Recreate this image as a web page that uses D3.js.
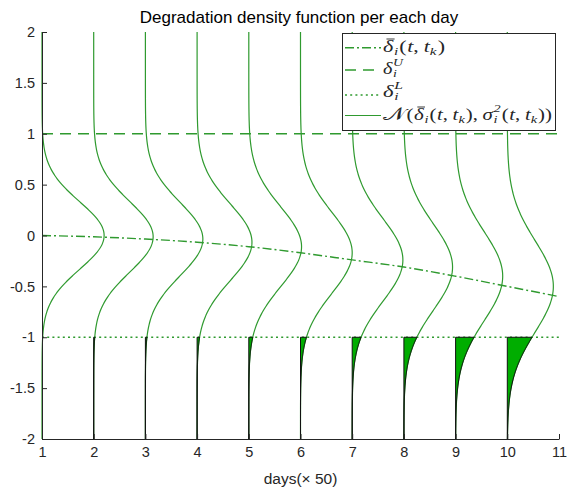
<!DOCTYPE html>
<html>
<head>
<meta charset="utf-8">
<script src="https://cdn.jsdelivr.net/npm/d3@7"></script>
<style>
  body { margin: 0; background: #fff; }
  svg { display: block; font-family: "Liberation Sans", Arial, sans-serif; }
</style>
</head>
<body>
<div class="degviz"></div>
<script>
// days (x 50) where a density is drawn
const days = [1, 2, 3, 4, 5, 6, 7, 8, 9, 10];
// mean degradation curve read at x = 1..11
const meanX = [1, 2, 3, 4, 5, 6, 7, 8, 9, 10, 11];
const meanY = [0, -0.013, -0.035, -0.066, -0.11, -0.17, -0.24, -0.31, -0.40, -0.50, -0.60];
// spread of each day's density
const sigmas = [0.332, 0.347, 0.359, 0.376, 0.391, 0.399, 0.407, 0.424, 0.438, 0.448];
const upperBound = 1;
const lowerBound = -1;
const xTicks = [1, 2, 3, 4, 5, 6, 7, 8, 9, 10, 11];
const yTicks = [-2, -1.5, -1, -0.5, 0, 0.5, 1, 1.5, 2];
const yTickLabels = ["-2", "-1.5", "-1", "-0.5", "0", "0.5", "1", "1.5", "2"];

const margin = { top: 32, right: 9, bottom: 56, left: 42 },
    width = 568 - margin.left - margin.right,
    height = 495 - margin.top - margin.bottom;

const axisColor = "#262626";
const lineGreen = "#2f9a2f";
const fillGreen = "#00ad00";

const svg = d3.select(".degviz")
    .append("svg")
    .attr("width", width + margin.left + margin.right)
    .attr("height", height + margin.top + margin.bottom);

const plot = svg.append("g")
    .attr("transform", `translate(${margin.left},${margin.top})`);

const x = d3.scaleLinear().domain([1, 11]).range([0, width]);
const y = d3.scaleLinear().domain([-2, 2]).range([height, 0]);

const pdf = (v, mu, s) => Math.exp(-0.5 * ((v - mu) / s) ** 2) / (s * Math.sqrt(2 * Math.PI));
const ySamples = d3.range(-2, 2.0001, 0.01);
const ySamplesLow = d3.range(-2, lowerBound + 0.0001, 0.01);

// mean line
plot.append("path")
    .datum(meanX.map((d, i) => [d, meanY[i]]))
    .attr("fill", "none")
    .attr("stroke", lineGreen)
    .attr("stroke-width", 1.4)
    .attr("stroke-dasharray", "9,3,2,3")
    .attr("d", d3.line().x(d => x(d[0])).y(d => y(d[1])).curve(d3.curveMonotoneX));

// bounds
plot.append("line")
    .attr("x1", x(1)).attr("x2", x(11))
    .attr("y1", y(upperBound)).attr("y2", y(upperBound))
    .attr("stroke", lineGreen).attr("stroke-width", 1.6)
    .attr("stroke-dasharray", "11,7");
plot.append("line")
    .attr("x1", x(1)).attr("x2", x(11))
    .attr("y1", y(lowerBound)).attr("y2", y(lowerBound))
    .attr("stroke", lineGreen).attr("stroke-width", 1.6)
    .attr("stroke-dasharray", "2,3.2");

// density per day, lying on its side
const curve = d3.line().x(d => x(d[0])).y(d => y(d[1]));
days.forEach((k, i) => {
    const mu = meanY[i];
    const s = sigmas[i];
    plot.append("path")
        .datum(ySamples.map(v => [k + pdf(v, mu, s), v]))
        .attr("fill", "none")
        .attr("stroke", lineGreen)
        .attr("stroke-width", 1.2)
        .attr("d", curve);
});

// probability of going below the lower bound
days.slice(1).forEach((k, j) => {
    const i = j + 1;
    const pts = ySamplesLow.map(v => [k + pdf(v, meanY[i], sigmas[i]), v]);
    pts.push([k, lowerBound]);
    pts.push([k, -2]);
    plot.append("path")
        .datum(pts)
        .attr("fill", fillGreen)
        .attr("stroke", "#111")
        .attr("stroke-width", 1)
        .attr("d", d3.line().x(d => x(d[0])).y(d => y(d[1])).curve(d3.curveLinearClosed));
});

// axes
const xAxis = plot.append("g")
    .attr("transform", `translate(0,${height})`)
    .call(d3.axisBottom(x).tickValues(xTicks).tickSize(-5).tickSizeOuter(0).tickPadding(8).tickFormat(d3.format("d")));
const yAxis = plot.append("g")
    .call(d3.axisLeft(y).tickValues(yTicks).tickSize(-5).tickSizeOuter(0).tickPadding(7)
        .tickFormat((d, i) => yTickLabels[i]));
[xAxis, yAxis].forEach(a => {
    a.select(".domain").attr("stroke", axisColor);
    a.selectAll(".tick line").attr("stroke", axisColor);
    a.selectAll(".tick text").attr("fill", axisColor)
        .style("font-size", "14.5px").style("font-family", "'Liberation Sans', Arial, sans-serif");
});

// title + label
svg.append("text")
    .attr("x", 299).attr("y", 23)
    .attr("text-anchor", "middle")
    .style("font-size", "17px").attr("fill", "#000")
    .text("Degradation density function per each day");
svg.append("text")
    .attr("x", margin.left + width / 2).attr("y", 484)
    .attr("text-anchor", "middle")
    .style("font-size", "15.5px").attr("fill", axisColor)
    .text("days(\u00d7 50)");

// legend
const lg = svg.append("g");
lg.append("rect")
    .attr("x", 342.5).attr("y", 33.5).attr("width", 213).attr("height", 97)
    .attr("fill", "#fff").attr("stroke", axisColor).attr("stroke-width", 1);

const rows = [47.7, 70, 95, 115.5];
const dashes = ["9,3,2,3", "11,7", "2,3.2", null];
rows.forEach((ry, i) => {
    const ln = lg.append("line")
        .attr("x1", 345).attr("x2", 381).attr("y1", ry).attr("y2", ry)
        .attr("stroke", lineGreen).attr("stroke-width", i == 3 ? 1.2 : 1.5);
    if (dashes[i]) ln.attr("stroke-dasharray", dashes[i]);
});

function put(g, txt, px, py, size, italic) {
    const t = g.append("text")
        .attr("x", px).attr("y", py)
        .style("font-size", size + "px")
        .style("font-style", italic ? "italic" : "normal")
        .text(txt);
    return t.node().getComputedTextLength();
}

// lays a TeX-like string out piece by piece, then stretches it to the wanted width
function mathRow(x0, base, fitW, parts) {
    const g = lg.append("g")
        .attr("font-family", "'Liberation Serif', 'DejaVu Serif', serif")
        .attr("fill", "#262626");
    let cx = 0;
    parts.forEach(p => {
        if (p.sub !== undefined || p.sup !== undefined) {
            let w = 0;
            if (p.sup) w = Math.max(w, put(g, p.sup, cx, base - 7.5, 11, true));
            if (p.sub) w = Math.max(w, put(g, p.sub, cx, base + 3.5, 11, true));
            cx += w + 0.8;
        } else {
            const w = put(g, p.t, cx, base, p.size || 16, p.it);
            if (p.bar) {
                g.append("line")
                    .attr("x1", cx + 2.5).attr("x2", cx + w + 1)
                    .attr("y1", base - 13).attr("y2", base - 13)
                    .attr("stroke", "#262626").attr("stroke-width", 0.9);
            }
            cx += w + (p.sp || 0);
        }
    });
    const f = fitW / cx;
    g.attr("transform", `translate(${x0},0) scale(${f},1)`);
}

const dbar = [{ t: "\u03b4", it: true, bar: true, sp: 0.5 }, { sub: "i" }];
const args = [{ t: "(", sp: 0.5 }, { t: "t", it: true }, { t: ",", sp: 3.5 }, { t: "t", it: true }, { sub: "k" }, { t: ")" }];

mathRow(383, 52, 62, dbar.concat(args));
mathRow(383, 74, 21, [{ t: "\u03b4", it: true, sp: 0.5 }, { sub: "i", sup: "U" }]);
mathRow(383, 97, 21, [{ t: "\u03b4", it: true, sp: 0.5 }, { sub: "i", sup: "L" }]);
mathRow(383, 120, 169, [{ t: "\ud835\udca9", size: 18, sp: 1 }, { t: "(", sp: 0.5 }]
    .concat(dbar, args, [{ t: ",", sp: 3.5 }, { t: "\u03c3", it: true, sp: 0.5 }, { sub: "i", sup: "2" }], args, [{ t: ")" }]));
</script>
</body>
</html>
